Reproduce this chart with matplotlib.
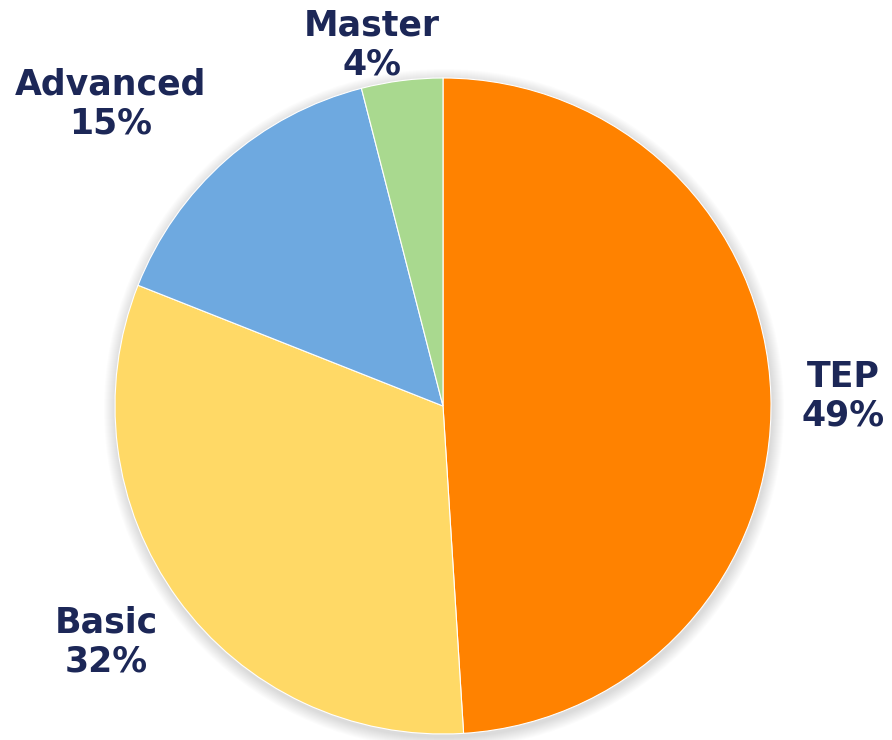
import matplotlib.pyplot as plt
from matplotlib.patches import Circle

# Répartition par niveau
categories = ["TEP", "Basic", "Advanced", "Master"]
shares = [49, 32, 15, 4]
colors = ["#FF8200", "#FFD966", "#6EA9E0", "#A9D98F"]

text_color = "#1C2757"

fig = plt.figure(figsize=(8.92, 7.40), dpi=100)
ax = fig.add_axes([0, 0, 1, 1])

cx, cy, r = 443, 334, 328

# Ombre douce autour du disque
for k in range(12, 0, -1):
    ax.add_patch(Circle((cx + 1, cy - 3), r + k, color="#000000", alpha=0.012, lw=0, zorder=0))

ax.pie(shares, colors=colors, startangle=90, counterclock=False,
       center=(cx, cy), radius=r, frame=True,
       wedgeprops=dict(edgecolor="white", linewidth=0.8))
ax.set_xlim(0, 892)
ax.set_ylim(0, 740)
ax.set_aspect("equal")
ax.axis("off")

# Étiquettes placées autour du disque
label_pos = [(843, 344), (106, 98), (111, 636), (372, 695)]
for name, pct, (x, y) in zip(categories, shares, label_pos):
    ax.text(x, y, f"{name}\n{pct}%", ha="center", va="center", fontsize=25,
            fontweight="bold", color=text_color, linespacing=1.15)

plt.savefig("out.png", dpi=100)
plt.close()
